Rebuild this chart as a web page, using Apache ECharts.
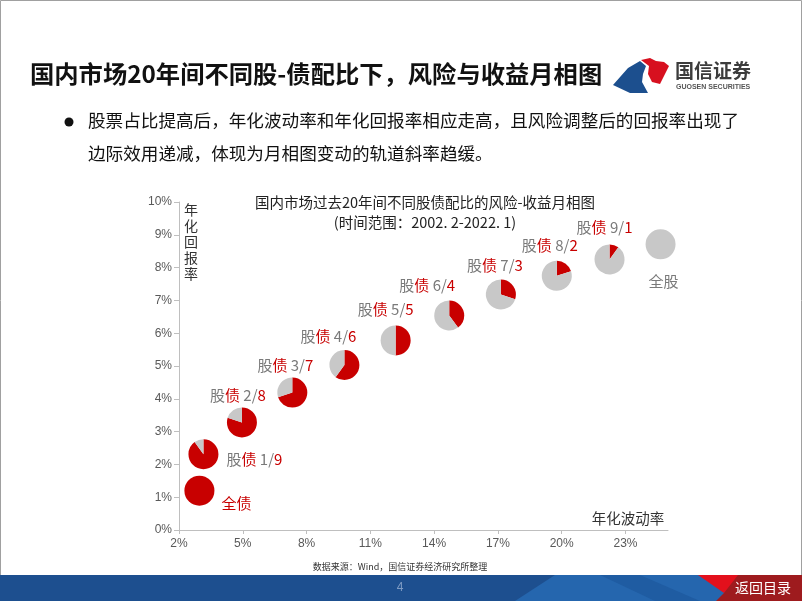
<!DOCTYPE html>
<html>
<head>
<meta charset="utf-8">
<script src="https://cdn.jsdelivr.net/npm/echarts@6/dist/echarts.min.js"></script>
<style>
html,body{margin:0;padding:0;background:#fff;}
#main{width:802px;height:601px;}
</style>
</head>
<body>
<div id="main"></div>
<script>
// ---- data ----
const pointNames   = ['全债','股债 1/9','股债 2/8','股债 3/7','股债 4/6','股债 5/5','股债 6/4','股债 7/3','股债 8/2','股债 9/1','全股'];
const stockPart    = [0, 1, 2, 3, 4, 5, 6, 7, 8, 9, 10];
const bondPart     = [10, 9, 8, 7, 6, 5, 4, 3, 2, 1, 0];
const volatility   = [2.96, 3.15, 4.96, 7.33, 9.78, 12.19, 14.71, 17.14, 19.77, 22.25, 24.65]; // 年化波动率 %
const annualReturn = [1.20, 2.31, 3.28, 4.19, 5.03, 5.78, 6.54, 7.18, 7.75, 8.25, 8.71];      // 年化回报率 %
const xTicks = [2, 5, 8, 11, 14, 17, 20, 23];
const yTicks = [0, 1, 2, 3, 4, 5, 6, 7, 8, 9, 10];

// ---- layout (label offsets from pie centre, px) ----
const labelOffsets = [[37,13],[51,5],[-4,-27],[-7,-27],[-16,-29],[-10,-31],[-22,-30],[-6,-29],[-7,-31],[-5,-32],[3,37]];

const RED = '#C80000', GREY = '#C8C8C8', TXTGREY = '#7A7A7A';
const CJK = '"Noto Sans CJK SC","Noto Sans",sans-serif';

function labelText(i){
  if (stockPart[i] === 0) return '{r|全债}';
  if (bondPart[i] === 0) return '{g|全股}';
  return '{g|股}{r|债} {g|' + stockPart[i] + '/}{r|' + bondPart[i] + '}';
}

const seriesData = volatility.map((v, i) => [v, annualReturn[i], stockPart[i], bondPart[i], i]);

const chart = echarts.init(document.getElementById('main'), null, {renderer:'canvas'});

const option = {
  animation: false,
  backgroundColor: '#ffffff',
  grid: { left: 179, top: 202, width: 489, height: 328, containLabel: false },
  xAxis: {
    type: 'value', min: 2, max: 25, interval: 3,
    axisLine: { show: true, lineStyle: { color: '#BFBFBF', width: 1 } },
    axisTick: { show: true, length: 4, lineStyle: { color: '#BFBFBF' }, customValues: xTicks },
    axisLabel: { color: '#595959', fontSize: 12, fontFamily: 'Liberation Sans, Arial, sans-serif', margin: 8,
                 formatter: '{value}%', customValues: xTicks },
    splitLine: { show: false }
  },
  yAxis: {
    type: 'value', min: 0, max: 10, interval: 1,
    axisLine: { show: true, lineStyle: { color: '#BFBFBF', width: 1 } },
    axisTick: { show: true, length: 5, lineStyle: { color: '#BFBFBF' }, customValues: yTicks },
    axisLabel: { color: '#595959', fontSize: 12, fontFamily: 'Liberation Sans, Arial, sans-serif', margin: 7,
                 formatter: '{value}%', customValues: yTicks },
    splitLine: { show: false }
  },
  series: [{
    type: 'custom',
    coordinateSystem: 'cartesian2d',
    data: seriesData,
    clip: false,
    renderItem: function (params, api) {
      const c = api.coord([api.value(0), api.value(1)]);
      const s = api.value(2), b = api.value(3), idx = api.value(4);
      const r = 15;
      const start = -Math.PI / 2;
      const children = [];
      if (s === 0 || b === 0) {
        children.push({ type: 'circle', shape: { cx: c[0], cy: c[1], r: r },
                        style: { fill: s === 0 ? RED : GREY } });
      } else {
        const a = b / (s + b) * Math.PI * 2;
        children.push({ type: 'sector', shape: { cx: c[0], cy: c[1], r0: 0, r: r, startAngle: start, endAngle: start + a, clockwise: true },
                        style: { fill: RED } });
        children.push({ type: 'sector', shape: { cx: c[0], cy: c[1], r0: 0, r: r, startAngle: start + a, endAngle: start + Math.PI * 2, clockwise: true },
                        style: { fill: GREY } });
      }
      const off = labelOffsets[idx];
      children.push({
        type: 'text',
        style: {
          x: c[0] + off[0], y: c[1] + off[1],
          text: labelText(idx),
          align: 'center', verticalAlign: 'middle',
          fontSize: 15, fontFamily: CJK,
          rich: {
            g: { fill: TXTGREY, fontSize: 15, fontFamily: CJK },
            r: { fill: RED, fontSize: 15, fontFamily: CJK }
          }
        }
      });
      return { type: 'group', children: children };
    }
  }],
  graphic: [
    // page frame
    { type: 'rect', shape: { x: 0.5, y: 0.5, width: 801, height: 600 }, style: { fill: 'none', stroke: '#A0A0A0', lineWidth: 1 }, z: 0 },
    // header title
    { type: 'text', left: 30, top: 62, style: { text: '国内市场20年间不同股-债配比下，风险与收益月相图', fontSize: 24.3, fontWeight: 'bold', fontFamily: CJK, fill: '#111' } },
    // logo shapes
    { type: 'polygon', shape: { points: [[613,85],[628,68],[640,61],[646,66],[643,74],[642,82],[648,93],[630,93]] }, style: { fill: '#1C4F8E' } },
    { type: 'polygon', shape: { points: [[641,60],[650,58],[656,61],[664,62],[669,66],[660,84],[652,82],[648,74],[649,66]] }, style: { fill: '#D7101F' } },
    { type: 'text', left: 675, top: 61, style: { text: '国信证券', fontSize: 19, fontWeight: 'bold', fontFamily: CJK, fill: '#3C3C3C' } },
    { type: 'text', left: 676, top: 84, style: { text: 'GUOSEN SECURITIES', fontSize: 7, fontWeight: 'bold', fontFamily: 'Liberation Sans, Arial, sans-serif', fill: '#555' } },
    // bullet
    { type: 'circle', shape: { cx: 69, cy: 122, r: 4.5 }, style: { fill: '#111' } },
    { type: 'text', left: 88, top: 112, style: { text: '股票占比提高后，年化波动率和年化回报率相应走高，且风险调整后的回报率出现了', fontSize: 17.6, fontFamily: CJK, fill: '#111' } },
    { type: 'text', left: 88, top: 145, style: { text: '边际效用递减，体现为月相图变动的轨道斜率趋缓。', fontSize: 17.6, fontFamily: CJK, fill: '#111' } },
    // chart title
    { type: 'text', x: 425, y: 202, style: { text: '国内市场过去20年间不同股债配比的风险-收益月相图', align: 'center', verticalAlign: 'middle', fontSize: 14.5, fontFamily: CJK, fill: '#222' } },
    { type: 'text', x: 425, y: 222, style: { text: '(时间范围：2002. 2-2022. 1)', align: 'center', verticalAlign: 'middle', fontSize: 14.5, fontFamily: CJK, fill: '#222' } },
    // axis names
    { type: 'text', x: 191, y: 242, style: { text: '年\n化\n回\n报\n率', align: 'center', verticalAlign: 'middle', fontSize: 14, lineHeight: 16, fontFamily: CJK, fill: '#333' } },
    { type: 'text', x: 628, y: 518, style: { text: '年化波动率', align: 'center', verticalAlign: 'middle', fontSize: 14.5, fontFamily: CJK, fill: '#333' } },
    // source
    { type: 'text', x: 400, y: 567, style: { text: '数据来源：Wind，国信证券经济研究所整理', align: 'center', verticalAlign: 'middle', fontSize: 9, fontFamily: CJK, fill: '#333' } },
    // footer bar
    { type: 'rect', shape: { x: 0, y: 575, width: 802, height: 26 }, style: { fill: '#1D4F8F' } },
    { type: 'polygon', shape: { points: [[555,575],[705,575],[745,601],[515,601]] }, style: { fill: '#2566AE' } },
    { type: 'polygon', shape: { points: [[600,575],[640,575],[700,601],[655,601]] }, style: { fill: '#1F5CA2' } },
    { type: 'polygon', shape: { points: [[698,575],[746,575],[724,593]] }, style: { fill: '#E3101C' } },
    { type: 'polygon', shape: { points: [[738,575],[802,575],[802,601],[716,601],[724,593]] }, style: { fill: '#9E1B1E' } },
    { type: 'text', x: 400, y: 588, style: { text: '4', align: 'center', verticalAlign: 'middle', fontSize: 12, fontFamily: 'Liberation Sans, Arial, sans-serif', fill: '#7F9CC4' } },
    { type: 'text', x: 763, y: 588, style: { text: '返回目录', align: 'center', verticalAlign: 'middle', fontSize: 14, fontFamily: CJK, fill: '#ffffff' } }
  ]
};
chart.setOption(option);
</script>
</body>
</html>
